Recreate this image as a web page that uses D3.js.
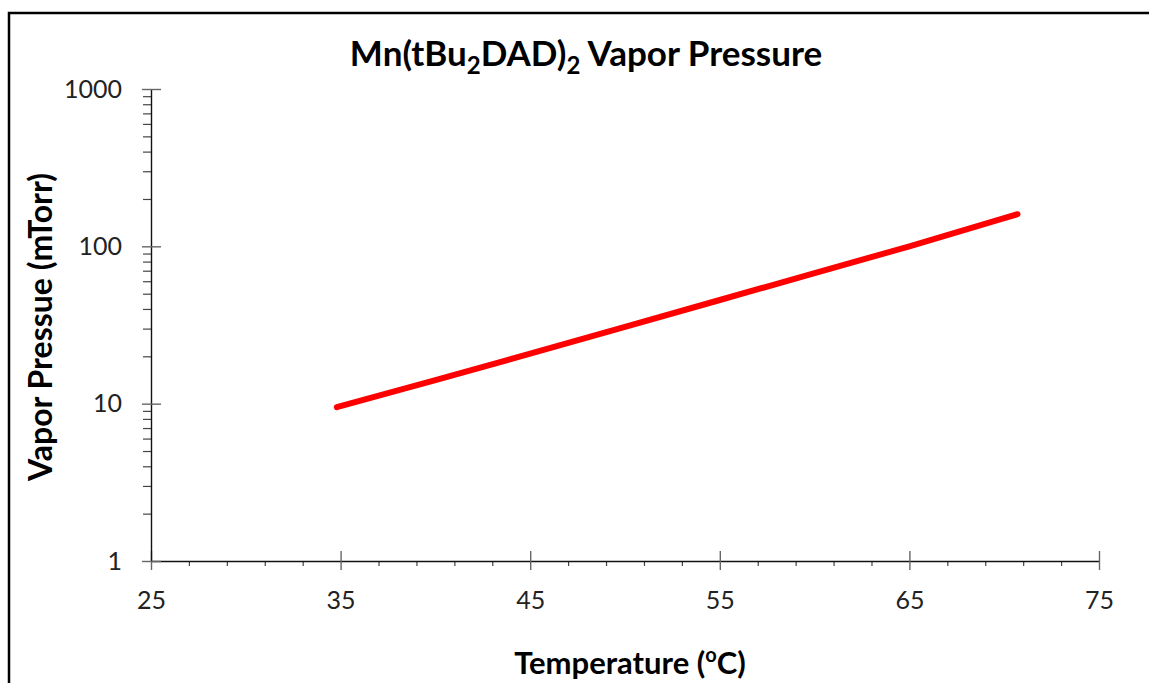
<!DOCTYPE html>
<html><head><meta charset="utf-8">
<script src="https://cdn.jsdelivr.net/npm/d3@7/dist/d3.min.js"></script>
<style>
html,body{margin:0;padding:0;background:#fff;}
svg{display:block;}
text{font-family:Lato,"Open Sans",sans-serif;}
</style></head>
<body>
<svg id="c" width="1149" height="683"></svg>
<script>
// Data
const temps = [34.8, 40, 45, 50, 55, 60, 65, 70, 70.7];
const pressures = [9.5, 14.1, 20.8, 30.8, 45.6, 67.6, 100, 151, 160];
const xMajor = [25, 35, 45, 55, 65, 75];
const xMinor = [27, 29, 31, 33, 37, 39, 41, 43, 47, 49, 51, 53, 57, 59, 61, 63, 67, 69, 71, 73];
const yMajor = [1, 10, 100, 1000];
const yMinor = [2,3,4,5,6,7,8,9,20,30,40,50,60,70,80,90,200,300,400,500,600,700,800,900];

const svg = d3.select("#c");
const x = d3.scaleLinear().domain([25, 75]).range([151, 1099]);
const y = d3.scaleLog().domain([1, 1000]).range([561, 89]);

// outer border
svg.append("rect").attr("x", 9).attr("y", 13).attr("width", 1300).attr("height", 900)
  .attr("fill", "none").attr("stroke", "#000").attr("stroke-width", 2.5);

// minor ticks
const gxm = svg.append("g").attr("transform", "translate(0,561)")
  .call(d3.axisBottom(x).tickValues(xMinor).tickSize(5).tickFormat(""));
const gym = svg.append("g").attr("transform", "translate(151,0)")
  .call(d3.axisLeft(y).tickValues(yMinor).tickSize(8).tickFormat(""));
[gxm, gym].forEach(g => { g.select(".domain").remove(); g.selectAll(".tick line").attr("stroke", "#444").attr("stroke-width", 1.2); });

// major axes
const gx = svg.append("g").attr("transform", "translate(0,561)")
  .call(d3.axisBottom(x).tickValues(xMajor).tickSize(9).tickPadding(21).tickFormat(d3.format("d")));
gx.selectAll(".tick line").attr("y1", -10).attr("y2", 9);
const gy = svg.append("g").attr("transform", "translate(151,0)")
  .call(d3.axisLeft(y).tickValues(yMajor).tickSize(9).tickPadding(20).tickFormat(d3.format("d")));
gy.selectAll(".tick line").attr("x1", 10).attr("x2", -9);
[gx, gy].forEach(g => {
  g.select(".domain").attr("stroke", "#111").attr("stroke-width", 1.4);
  g.selectAll(".tick line").attr("stroke", "#666").attr("stroke-width", 1.4);
  g.selectAll(".tick text").attr("fill", "#222").style("font-size", "25px").style("font-family", "Lato, 'Open Sans', sans-serif");
});
gx.select(".domain").attr("d", "M151,0.5H1099");
gy.select(".domain").attr("d", "M0.5,561V89");

// line
const line = d3.line().x((d, i) => x(temps[i])).y((d, i) => y(pressures[i]));
svg.append("path").datum(pressures).attr("d", line)
  .attr("fill", "none").attr("stroke", "#ff0000").attr("stroke-width", 6)
  .attr("stroke-linecap", "round").attr("stroke-linejoin", "round");

// title
const t = svg.append("text").attr("x", 586).attr("y", 66).attr("text-anchor", "middle")
  .style("font-size", "35px").style("font-weight", "bold").attr("fill", "#000");
t.append("tspan").text("Mn(tBu");
t.append("tspan").text("2").style("font-size", "24px").attr("dy", 8);
t.append("tspan").text("DAD)").attr("dy", -8);
t.append("tspan").text("2").style("font-size", "24px").attr("dy", 8);
t.append("tspan").text(" Vapor Pressure").attr("dy", -8);

// y label
svg.append("text").attr("transform", "translate(52,327) rotate(-90)").attr("text-anchor", "middle")
  .style("font-size", "32px").style("font-weight", "bold").attr("fill", "#000")
  .text("Vapor Pressue (mTorr)");

// x label
const xl = svg.append("text").attr("x", 630).attr("y", 674).attr("text-anchor", "middle")
  .style("font-size", "31px").style("font-weight", "bold").attr("fill", "#000");
xl.append("tspan").text("Temperature (");
xl.append("tspan").text("o").style("font-size", "20px").attr("dy", -12);
xl.append("tspan").text("C)").attr("dy", 12);
</script>
</body></html>
